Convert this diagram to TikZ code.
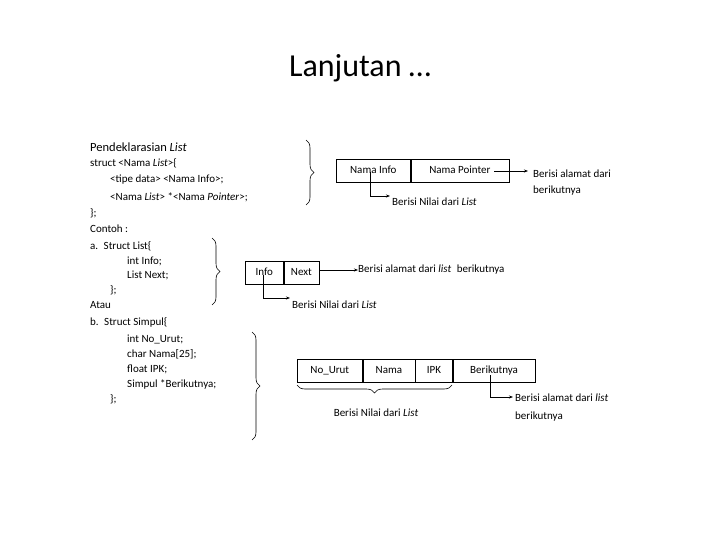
\documentclass[tikz,border=0pt]{standalone}
\usepackage{fontspec}
\setmainfont{Carlito}
\usetikzlibrary{decorations.pathreplacing,arrows.meta}
\tikzstyle{code}=[anchor=west,inner sep=0pt,font=\fontsize{11}{13}\selectfont]
\tikzstyle{label}=[anchor=west,inner sep=0pt,font=\fontsize{11}{13}\selectfont]
\tikzstyle{cell}=[draw=black,line width=0.6,minimum height=23pt,inner sep=0pt,text height=7.5pt,text depth=2pt,font=\fontsize{11}{13}\selectfont]
\tikzstyle{none}=[inner sep=0pt]
\tikzstyle{inarrow}=[-{Stealth[length=4pt]},line width=0.6]
\tikzstyle{bracer}=[decorate,decoration={brace,amplitude=8pt},line width=0.6]
\begin{document}
\begin{tikzpicture}[x=1pt,y=-1pt]
	\useasboundingbox (0,0) rectangle (720,540);
	\node [none,font=\fontsize{32}{36}\selectfont] (title) at (360,68) {Lanjutan …};
	% code
	\node [code,font=\fontsize{12.5}{14}\selectfont] (c0) at (90,147) {Pendeklarasian \textit{List}};
	\node [code] (c1) at (90,163) {struct <Nama \textit{List}>\{};
	\node [code] (c2) at (110,180) {<tipe data> <Nama Info>;};
	\node [code] (c3) at (110,197) {<Nama \textit{List}> *<Nama \textit{Pointer}>;};
	\node [code] (c4) at (90,213) {\};};
	\node [code] (c5) at (90,229) {Contoh :};
	\node [code] (c6) at (90,246) {a.\enspace Struct List\{};
	\node [code] (c7) at (127,261) {int Info;};
	\node [code] (c8) at (127,275) {List Next;};
	\node [code] (c9) at (110,290) {\};};
	\node [code] (c10) at (90,305) {Atau};
	\node [code] (c11) at (90,322) {b.\enspace Struct Simpul\{};
	\node [code] (c12) at (127,339) {int No\_Urut;};
	\node [code] (c13) at (127,354) {char Nama[25];};
	\node [code] (c14) at (127,369) {float IPK;};
	\node [code] (c15) at (127,384) {Simpul *Berikutnya;};
	\node [code] (c16) at (110,399) {\};};
	% first box
	\draw [bracer] (306,140) -- (306,205);
	\node [cell,minimum width=74pt,anchor=west] (info1) at (336,171) {Nama Info};
	\node [cell,minimum width=98pt,anchor=west] (ptr1) at (info1.east) {Nama Pointer};
	\node [label] (l1a) at (533,174) {Berisi alamat dari};
	\node [label] (l1b) at (533,191) {berikutnya};
	\node [label] (l1c) at (392,202) {Berisi Nilai dari \textit{List}};
	\coordinate (k1) at (370,196);
	\draw [inarrow] (ptr1.east) ++(-15,0) -- (528,171);
	\draw [inarrow] (370,172) -- (k1) -- ([xshift=-2pt]l1c.west |- k1);
	% second box
	\draw [bracer] (212,238) -- (212,305);
	\node [cell,minimum width=38pt,anchor=west] (info2) at (245,273) {Info};
	\node [cell,minimum width=35pt,anchor=west] (next2) at (info2.east) {Next};
	\node [label] (l2a) at (358,270) {Berisi alamat dari \textit{list}\enspace berikutnya};
	\node [label] (l2b) at (292,305) {Berisi Nilai dari \textit{List}};
	\coordinate (k2) at (263,298);
	\draw [inarrow] (next2.east |- l2a) -- (l2a.west);
	\draw [inarrow] (263,275) -- (k2) -- ([xshift=-2pt]l2b.west |- k2);
	% third box
	\draw [bracer] (252,332) -- (252,440);
	\node [cell,minimum width=65pt,anchor=west] (nourut) at (297,371) {No\_Urut};
	\node [cell,minimum width=52pt,anchor=west] (nama) at (nourut.east) {Nama};
	\node [cell,minimum width=37pt,anchor=west] (ipk) at (nama.east) {IPK};
	\node [cell,minimum width=82pt,anchor=west] (berikut) at (ipk.east) {Berikutnya};
	\draw [bracer] (452,385) -- (297,385);
	\node [label,anchor=center] (l3a) at (376,413) {Berisi Nilai dari \textit{List}};
	\node [label] (l3b) at (515,398) {Berisi alamat dari \textit{list}};
	\node [label] (l3c) at (515,417) {berikutnya};
	\coordinate (k3) at (490,397);
	\draw [inarrow] (490,375) -- (k3) -- ([xshift=-2pt]l3b.west |- k3);
\end{tikzpicture}
\end{document}
